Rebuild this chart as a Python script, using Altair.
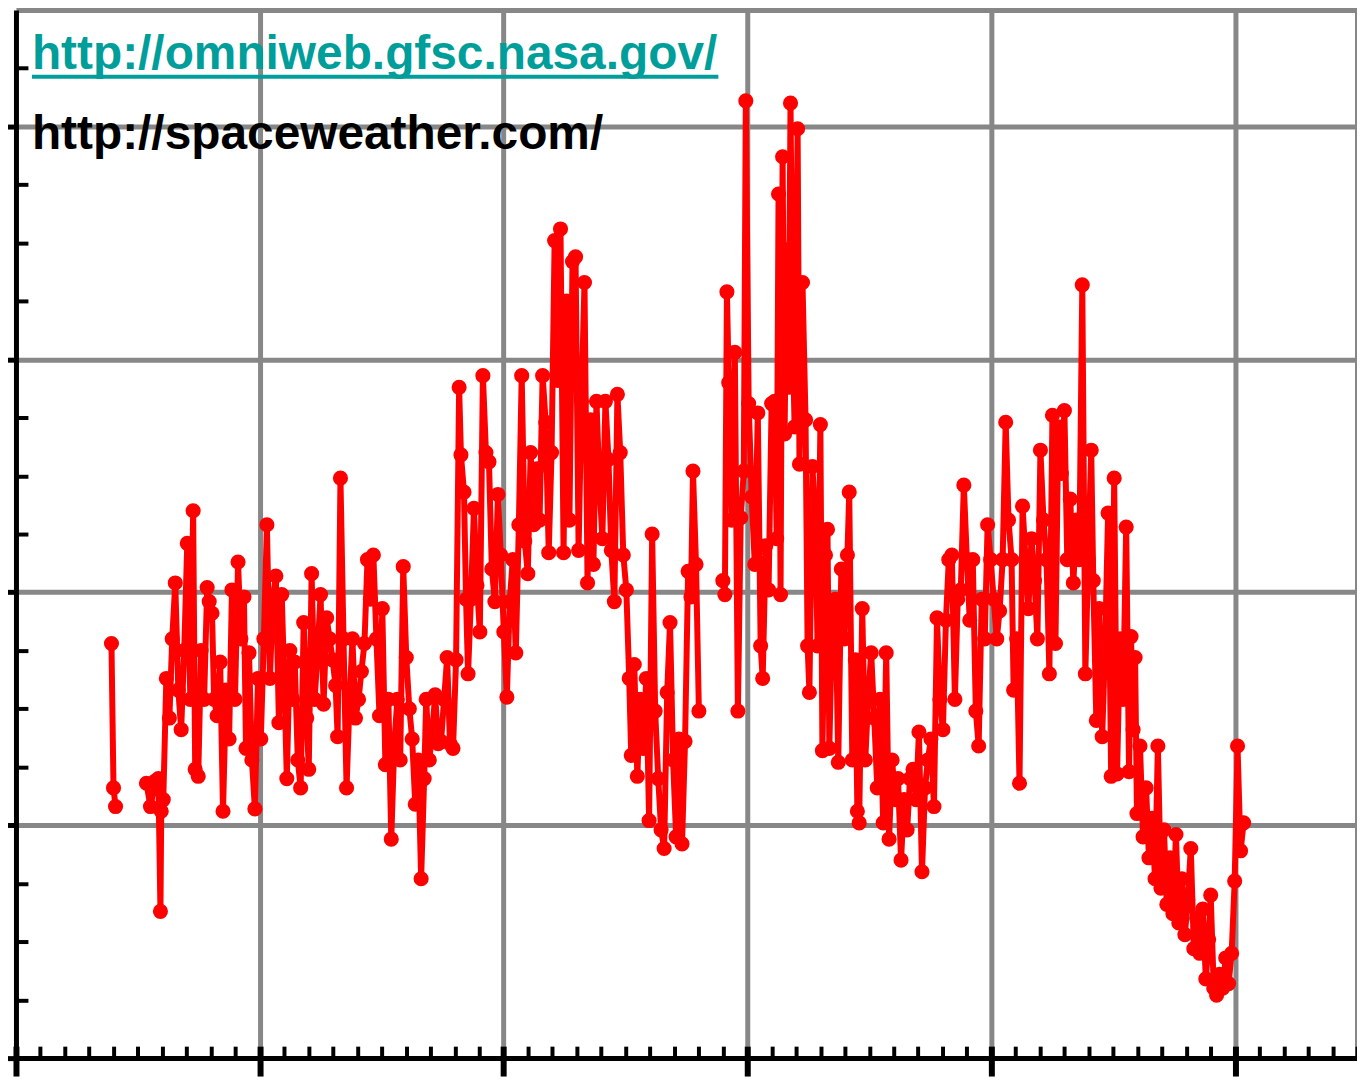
import altair as alt
import pandas as pd

# ---- data: (month index, value) ----
early = [(47.0, 178), (48.0, 116), (49.0, 108)]

rise1 = [(64.2, 118), (66.2, 108), (68.6, 119), (70.1, 120), (71.1, 63), (71.5, 106), (72.5, 111),
         (74.0, 163), (75.5, 146), (76.9, 180), (78.4, 204), (79.9, 158), (81.3, 141), (82.8, 175),
         (84.3, 221), (85.8, 154), (87.2, 235), (88.2, 124), (89.7, 121), (91.1, 175), (92.6, 154),
         (94.1, 202), (95.1, 196), (96.5, 191), (97.5, 154), (99.0, 147), (100.5, 170), (101.9, 106),
         (103.4, 158), (104.9, 137), (106.3, 201), (107.8, 154), (109.3, 213), (110.7, 180),
         (112.2, 198), (113.2, 133), (114.7, 174), (116.1, 128), (117.6, 107), (119.1, 163), (120.5, 137)]

plateau = [(122.0, 180), (123.5, 229), (125.0, 163), (126.4, 197), (127.9, 207), (129.4, 144),
           (130.8, 199), (132.3, 154), (133.3, 120), (134.8, 175), (136.2, 154), (137.2, 170),
           (138.7, 128), (140.1, 116), (141.6, 187), (143.1, 146), (144.1, 124), (145.5, 208),
           (147.0, 154), (148.5, 175), (149.9, 199), (151.4, 152), (152.9, 189), (154.4, 180),
           (155.8, 171), (157.3, 160), (158.3, 138), (159.7, 249), (161.2, 180), (162.7, 116),
           (164.2, 154), (165.6, 180), (167.1, 146), (168.6, 154), (170.0, 166), (171.5, 178),
           (173.0, 214), (174.4, 197), (175.9, 216), (177.4, 180), (178.9, 147), (180.3, 193),
           (181.8, 126), (183.3, 154), (184.7, 94), (186.2, 135), (187.7, 154), (189.1, 128)]

dip1 = [(190.6, 211), (192.1, 172), (193.6, 150), (195.0, 137), (196.5, 109), (198.0, 128),
        (199.4, 77), (200.9, 120), (201.9, 154), (203.4, 128), (204.8, 139), (206.3, 156),
        (207.8, 135), (209.2, 136), (210.7, 154), (212.2, 172), (213.6, 135), (215.1, 133),
        (216.6, 171), (218.1, 288), (219.0, 259), (220.5, 243), (221.5, 197), (222.5, 165)]

rise2 = [(223.9, 197), (225.4, 236), (226.9, 203), (228.3, 183), (229.8, 293), (231.3, 260),
         (232.8, 256), (234.2, 210), (235.7, 196), (237.2, 242), (238.6, 216), (240.1, 183),
         (241.6, 155), (243.0, 196), (244.5, 214), (246.0, 174), (247.5, 229), (248.9, 293),
         (250.4, 222), (251.9, 208), (253.3, 260), (254.8, 229), (256.3, 253), (257.7, 231)]

peak2 = [(259.2, 293), (260.7, 273), (262.2, 217), (263.6, 260), (265.1, 351), (266.6, 291),
         (268.0, 356), (269.5, 217), (271.0, 325), (272.4, 231), (273.9, 342), (275.4, 344),
         (276.9, 218), (278.3, 282), (279.8, 333), (281.3, 204), (282.7, 274), (284.2, 212),
         (285.7, 282), (287.1, 248), (288.6, 223), (290.1, 282), (291.6, 257), (293.0, 218),
         (294.5, 196), (296.0, 285), (297.4, 260), (298.9, 216), (300.4, 201), (301.8, 163),
         (302.8, 130), (304.3, 169), (305.8, 121)]

dip2 = [(307.2, 154), (308.7, 133), (310.2, 163), (311.6, 102), (313.1, 225), (314.6, 149),
        (316.1, 120), (317.5, 98), (319.0, 90), (320.5, 157), (321.9, 187), (323.4, 128),
        (324.9, 95), (326.3, 137), (327.8, 92), (329.3, 136), (330.8, 209), (332.2, 198),
        (333.2, 252), (334.7, 212), (336.1, 149)]

peak3 = [(347.9, 205), (348.9, 199), (349.9, 329), (350.8, 290), (352.3, 231), (353.8, 303),
         (355.3, 149), (356.7, 232), (358.2, 252), (359.2, 411), (360.6, 281), (362.1, 241),
         (363.6, 212), (365.1, 277), (366.5, 177), (367.5, 163), (369.0, 220), (370.4, 201),
         (371.9, 281), (373.4, 282), (374.4, 223), (375.3, 371), (376.3, 199), (377.3, 387),
         (378.3, 268), (379.3, 347), (380.2, 288), (381.2, 410), (382.2, 312), (383.2, 271),
         (384.7, 399), (385.6, 255), (387.1, 333), (388.6, 274), (389.6, 177), (390.5, 157),
         (392.0, 254), (393.5, 227), (394.5, 177), (395.9, 272), (396.9, 132), (398.4, 216),
         (399.4, 227)]

minimum3 = [(400.3, 133), (401.8, 193), (403.3, 197), (404.7, 127), (406.2, 210), (407.7, 180),
            (409.2, 216), (410.1, 243), (411.6, 128), (413.1, 171), (414.1, 106), (415.0, 101),
            (416.5, 193), (418.0, 128), (419.4, 154), (420.9, 174), (422.4, 146), (423.9, 116),
            (425.3, 154), (426.8, 101), (428.3, 174), (429.7, 94), (431.2, 128), (432.7, 111),
            (434.1, 120), (435.6, 85), (437.1, 111), (438.6, 98), (440.0, 120), (441.5, 124),
            (443.0, 111), (444.4, 140), (445.9, 80), (447.4, 116), (448.8, 128), (450.3, 137),
            (451.8, 108), (453.3, 189), (454.7, 154), (456.2, 141), (457.7, 188), (459.1, 214),
            (460.6, 216), (462.1, 154), (463.5, 197), (465.0, 201), (466.5, 246), (468.0, 214),
            (469.4, 188), (470.9, 214), (472.4, 149), (473.8, 134), (475.3, 197), (476.8, 180),
            (478.2, 229), (479.7, 214), (481.2, 197), (482.7, 180)]

peak4 = [(484.1, 192), (485.6, 214), (487.1, 273), (488.5, 231), (490.0, 214), (491.0, 158),
         (492.5, 180), (493.9, 118), (495.4, 237), (496.9, 214), (498.3, 193), (499.8, 223),
         (501.3, 205), (502.7, 180), (504.2, 261), (505.7, 231), (507.2, 214), (508.6, 165),
         (510.1, 276), (511.6, 178), (513.0, 271), (514.5, 251), (516.0, 278), (517.4, 214),
         (518.9, 240), (520.4, 204), (521.9, 231), (523.3, 214), (524.8, 332), (526.3, 165),
         (527.7, 214), (529.2, 261), (530.2, 205), (531.7, 145), (533.1, 193), (534.6, 138),
         (536.1, 180), (537.5, 234), (539.0, 121), (540.5, 249), (541.9, 122), (543.4, 180),
         (544.9, 154), (546.4, 228), (547.8, 123)]

descent = [(548.8, 181), (549.8, 141), (550.8, 172), (551.7, 105), (553.2, 134), (554.7, 95),
           (556.2, 116), (557.6, 86), (559.1, 103), (560.6, 77), (562.0, 134), (563.5, 73),
           (565.0, 98), (566.4, 66), (567.9, 86), (569.4, 62), (570.9, 96), (572.3, 58),
           (573.8, 77), (575.3, 53), (576.7, 68), (578.2, 90), (579.7, 47), (581.1, 60),
           (582.6, 45), (584.1, 64), (585.6, 34), (587.0, 51), (588.0, 70), (589.5, 30),
           (590.9, 27), (592.4, 36), (593.9, 30), (595.4, 43), (596.8, 32), (598.3, 45),
           (599.8, 76), (601.2, 134), (602.7, 89), (604.2, 101)]

OMNI = "http://omniweb.gfsc.nasa.gov/"
SPACE = "http://spaceweather.com/"

X_DOMAIN = [0, 660]
Y_DOMAIN = [0, 450]
x_grid = [120, 240, 360, 480, 600, 660]
y_grid = [100, 200, 300, 400, 450]
x_major = [0, 120, 240, 360, 480, 600]
x_minor = [m for m in range(12, 661, 12) if m % 120 != 0]
y_major = [0, 100, 200, 300, 400]
y_minor = [v for v in range(25, 450, 25) if v % 100 != 0]

RED = "#ff0000"
GRID = "#878787"
TEAL = "#009e9a"

# data gaps (missing months) split the record into separate runs
segments = [("a", [early]),
            ("b", [rise1, plateau, dip1, rise2, peak2, dip2]),
            ("c", [peak3, minimum3, peak4, descent])]
rows = []
i = 0
for seg, blocks in segments:
    for block in blocks:
        for m, v in block:
            rows.append({"month": m, "value": v, "seg": seg, "idx": i})
            i += 1
df = pd.DataFrame(rows)

xs = alt.Scale(domain=X_DOMAIN, nice=False, zero=False)
ys = alt.Scale(domain=Y_DOMAIN, nice=False, zero=False)

base = alt.Chart(df)

# main axes: black domain lines and grey grid
line = base.mark_line(color=RED, strokeWidth=6, strokeJoin="round").encode(
    x=alt.X("month:Q", scale=xs,
            axis=alt.Axis(orient="bottom", values=x_grid, grid=True, gridColor=GRID,
                          gridWidth=5, gridOpacity=1, ticks=False, labels=False,
                          domain=True, domainColor="black", domainWidth=5, title=None)),
    y=alt.Y("value:Q", scale=ys,
            axis=alt.Axis(orient="left", values=y_grid, grid=True, gridColor=GRID,
                          gridWidth=5, gridOpacity=1, ticks=False, labels=False,
                          domain=True, domainColor="black", domainWidth=5, title=None)),
    detail="seg:N",
    order="idx:Q",
)

points = base.mark_circle(color=RED, size=230, opacity=1).encode(
    x=alt.X("month:Q", scale=xs, axis=None),
    y=alt.Y("value:Q", scale=ys, axis=None),
)

def tick_layer(xaxis, yaxis):
    return base.mark_point(opacity=0).encode(
        x=alt.X("month:Q", scale=xs, axis=xaxis),
        y=alt.Y("value:Q", scale=ys, axis=yaxis),
    )

x_minor_layer = tick_layer(
    alt.Axis(orient="bottom", values=x_minor, offset=-12, tickSize=12, tickWidth=4,
             tickColor="black", domain=False, labels=False, grid=False, title=None),
    None)
x_major_layer = tick_layer(
    alt.Axis(orient="bottom", values=x_major, offset=-12, tickSize=30, tickWidth=6,
             tickColor="black", domain=False, labels=False, grid=False, title=None),
    None)
y_minor_layer = tick_layer(
    None,
    alt.Axis(orient="left", values=y_minor, offset=-12, tickSize=12, tickWidth=4,
             tickColor="black", domain=False, labels=False, grid=False, title=None))
y_major_layer = tick_layer(
    None,
    alt.Axis(orient="left", values=y_major, tickSize=15, tickWidth=5,
             tickColor="black", domain=False, labels=False, grid=False, title=None))

omni_text = alt.Chart(pd.DataFrame({"label": [OMNI]})).mark_text(
    font="Liberation Sans", fontWeight="bold", fontSize=48, color=TEAL,
    align="left", baseline="alphabetic",
).encode(x=alt.value(16), y=alt.value(59), text="label:N")

underline = alt.Chart(pd.DataFrame({"label": [OMNI]})).mark_rule(
    color=TEAL, strokeWidth=4,
).encode(x=alt.value(16), x2=alt.value(705), y=alt.value(67))

space_text = alt.Chart(pd.DataFrame({"label": [SPACE]})).mark_text(
    font="Liberation Sans", fontWeight="bold", fontSize=48, color="black",
    align="left", baseline="alphabetic",
).encode(x=alt.value(16), y=alt.value(140), text="label:N")

chart = alt.layer(
    line, x_minor_layer, x_major_layer, y_minor_layer, y_major_layer,
    points, omni_text, underline, space_text,
).resolve_axis(
    x="independent", y="independent"
).properties(
    width=1346, height=1052,
    autosize=alt.AutoSizeParams(type="none"),
    padding={"left": 8, "top": 0, "right": 0, "bottom": 28},
).configure_view(strokeWidth=0)

chart.save("out.html", embed_options={"renderer": "svg", "actions": False})
